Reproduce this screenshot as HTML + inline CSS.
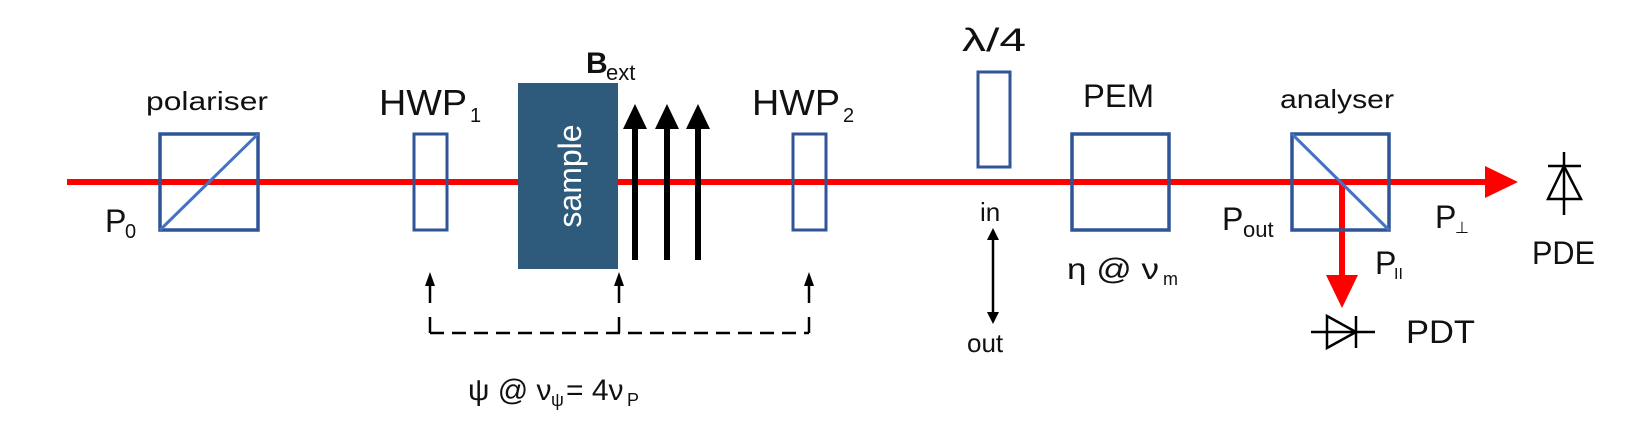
<!DOCTYPE html>
<html><head><meta charset="utf-8"><style>html,body{margin:0;padding:0;background:#fff}svg{display:block}text{font-family:"Liberation Sans",sans-serif;fill:#111}</style></head>
<body>
<svg width="1640" height="430" viewBox="0 0 1640 430" xmlns="http://www.w3.org/2000/svg">
<!-- beam -->
<line x1="67" y1="182" x2="1490" y2="182" stroke="#ff0000" stroke-width="6"/>
<polygon points="1485,166 1518,182 1485,198" fill="#ff0000"/>
<line x1="1342" y1="182" x2="1342" y2="278" stroke="#ff0000" stroke-width="6"/>
<polygon points="1326,275 1358,275 1342,308" fill="#ff0000"/>
<!-- polariser -->
<rect x="160" y="134" width="98" height="96" fill="none" stroke="#2f5597" stroke-width="3.5"/>
<line x1="160" y1="230" x2="258" y2="134" stroke="#4472c4" stroke-width="3"/>
<!-- HWP1 -->
<rect x="414" y="134" width="33" height="96" fill="none" stroke="#2f5597" stroke-width="3"/>
<!-- sample -->
<rect x="518" y="83" width="100" height="186" fill="#2e5b7c"/>
<text transform="translate(581,176) rotate(-90)" text-anchor="middle" font-size="32" style="fill:#fff">sample</text>
<!-- B arrows -->
<g stroke="#000">
<line x1="635" y1="260" x2="635" y2="125" stroke-width="6"/>
<line x1="667" y1="260" x2="667" y2="125" stroke-width="6"/>
<line x1="698" y1="260" x2="698" y2="125" stroke-width="6"/>
</g>
<polygon points="623,129 635,104 647,129" fill="#000"/>
<polygon points="655,129 667,104 679,129" fill="#000"/>
<polygon points="686,129 698,104 710,129" fill="#000"/>
<!-- HWP2 -->
<rect x="793" y="134" width="33" height="96" fill="none" stroke="#2f5597" stroke-width="3"/>
<!-- lambda/4 -->
<rect x="978" y="72" width="32" height="95" fill="none" stroke="#2f5597" stroke-width="3"/>
<!-- PEM -->
<rect x="1072" y="134" width="97" height="96" fill="none" stroke="#2f5597" stroke-width="3.5"/>
<!-- analyser -->
<rect x="1292" y="134" width="97" height="96" fill="none" stroke="#2f5597" stroke-width="3.5"/>
<line x1="1292" y1="134" x2="1389" y2="230" stroke="#4472c4" stroke-width="3"/>
<g stroke="#000" stroke-width="2.5" fill="none">
<line x1="1564" y1="152" x2="1564" y2="215"/>
<line x1="1548" y1="166" x2="1581" y2="166"/>
<polygon points="1564,166 1548,199 1581,199"/>
<line x1="1311" y1="332" x2="1375" y2="332"/>
<line x1="1356" y1="316" x2="1356" y2="348"/>
<polygon points="1327,316 1327,348 1356,332"/>
<line x1="993" y1="238" x2="993" y2="314"/>
<line x1="430" y1="284" x2="430" y2="303"/>
<line x1="619" y1="284" x2="619" y2="303"/>
<line x1="809" y1="284" x2="809" y2="303"/>
<line x1="430" y1="317" x2="430" y2="333"/>
<line x1="619" y1="317" x2="619" y2="333"/>
<line x1="809" y1="317" x2="809" y2="333"/>
<line x1="430" y1="333" x2="809" y2="333" stroke-dasharray="14,8"/>
</g>
<g fill="#000">
<polygon points="987,240 993,228 999,240"/>
<polygon points="987,312 993,324 999,312"/>
<polygon points="425,286 430,272 435,286"/>
<polygon points="614,286 619,272 624,286"/>
<polygon points="804,286 809,272 814,286"/>
</g>
<!-- labels -->
<text x="146" y="110" font-size="26" textLength="122" lengthAdjust="spacingAndGlyphs">polariser</text>
<text x="379" y="115" font-size="36" textLength="88" lengthAdjust="spacingAndGlyphs">HWP</text><text x="470" y="122" font-size="20">1</text>
<text x="586" y="73" font-size="30" font-weight="bold">B</text><text x="606" y="80" font-size="22">ext</text>
<text x="752" y="115" font-size="36" textLength="88" lengthAdjust="spacingAndGlyphs">HWP</text><text x="843" y="122" font-size="20">2</text>
<text x="962" y="51" font-size="32" textLength="64" lengthAdjust="spacingAndGlyphs">λ/4</text>
<text x="1083" y="107" font-size="32" textLength="71" lengthAdjust="spacingAndGlyphs">PEM</text>
<text x="1280" y="108" font-size="26" textLength="114" lengthAdjust="spacingAndGlyphs">analyser</text>
<text x="105" y="232" font-size="32">P</text><text x="125" y="238" font-size="20">0</text>
<text x="980" y="221" font-size="26">in</text>
<text x="967" y="352" font-size="26">out</text>
<text x="1067" y="279" font-size="30" textLength="92" lengthAdjust="spacingAndGlyphs">η @ ν</text><text x="1163" y="285" font-size="18">m</text>
<text x="1222" y="230" font-size="32">P</text><text x="1243" y="237" font-size="22">out</text>
<text x="1435" y="228" font-size="32">P</text><text x="1455" y="233" font-size="16">⊥</text>
<text x="1375" y="274" font-size="32">P</text><text x="1394" y="279" font-size="16">II</text>
<text x="1532" y="264" font-size="32" textLength="63" lengthAdjust="spacingAndGlyphs">PDE</text>
<text x="1406" y="343" font-size="32" textLength="69" lengthAdjust="spacingAndGlyphs">PDT</text>
<text x="468" y="400" font-size="30">ψ @ ν</text><text x="551" y="406" font-size="18">ψ</text><text x="566" y="400" font-size="30">= 4ν</text><text x="627" y="406" font-size="18">P</text>
</svg>
</body></html>
